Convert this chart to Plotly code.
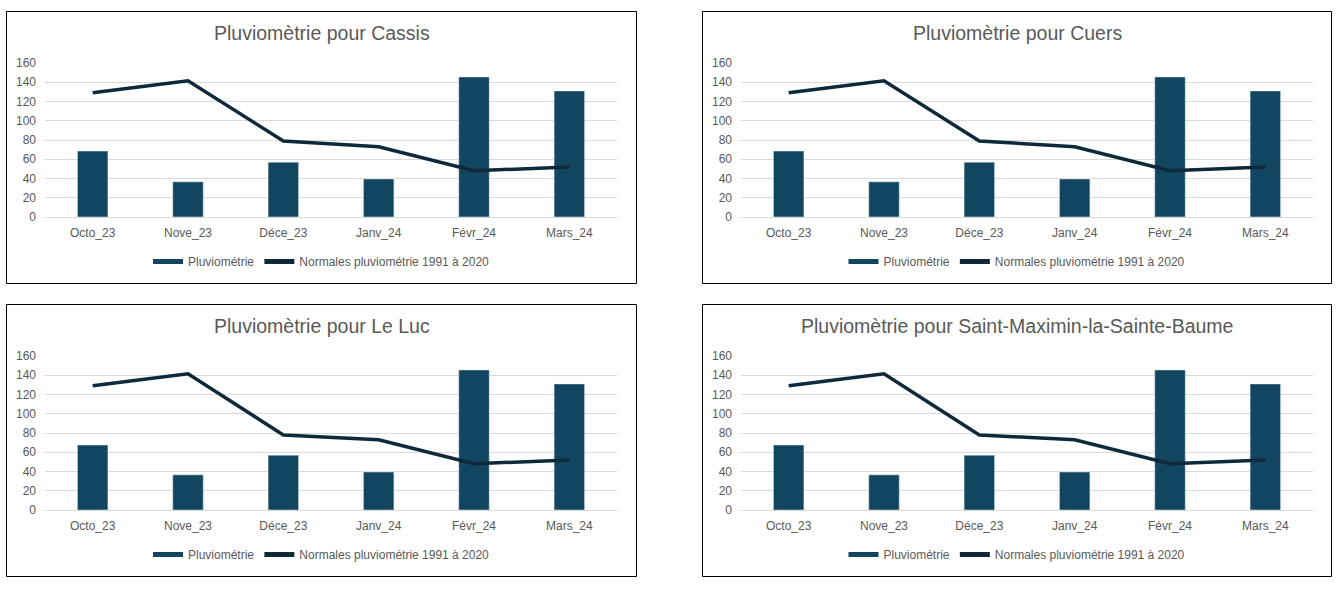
import plotly.graph_objects as go

W, H = 1339, 596

categories = ["Octo_23", "Nove_23", "Déce_23", "Janv_24", "Févr_24", "Mars_24"]
stations = ["Cassis", "Cuers", "Le Luc", "Saint-Maximin-la-Sainte-Baume"]

cassis_pluvio = [68.5, 36.5, 57, 39.5, 145.5, 131]
cassis_normales = [129, 141.5, 79, 73, 48, 52]
cuers_pluvio = [68.5, 36.5, 57, 39.5, 145.5, 131]
cuers_normales = [129, 141.5, 79, 73, 48, 52]
leluc_pluvio = [67.5, 36.5, 57, 39.5, 145.5, 131]
leluc_normales = [129, 141.5, 78, 73, 48, 52]
stmax_pluvio = [67.5, 36.5, 57, 39.5, 145.5, 131]
stmax_normales = [129, 141.5, 78, 73, 48, 52]

pluvio = [cassis_pluvio, cuers_pluvio, leluc_pluvio, stmax_pluvio]
normales = [cassis_normales, cuers_normales, leluc_normales, stmax_normales]

y_ticks = [0, 20, 40, 60, 80, 100, 120, 140, 160]

BAR_COLOR = "#124560"
LINE_COLOR = "#0e2a3a"
GRID = "#d9d9d9"
TXT = "#595959"
FONT = "Liberation Sans, Arial, sans-serif"

# panel geometry in pixels: (box_x0, box_x1, box_y0, box_y1, plot_x0, plot_x1, y0px(0), y160px)
panels = [
    (6.5, 636.5, 11.5, 283.5, 45, 617, 217, 63),
    (702.5, 1331.5, 11.5, 283.5, 741, 1313, 217, 63),
    (6.5, 636.5, 304.5, 576.5, 45, 617, 510, 356),
    (702.5, 1331.5, 304.5, 576.5, 741, 1313, 510, 356),
]

def px(x):
    return x / W

def py(y):
    return 1 - y / H

fig = go.Figure()
shapes = []
annotations = []
layout = {}

for i, (st, pv, nm, geo) in enumerate(zip(stations, pluvio, normales, panels)):
    bx0, bx1, by0, by1, x0, x1, yb, yt = geo
    n = "" if i == 0 else str(i + 1)
    xa, ya = "x" + n, "y" + n
    leg = "legend" + n
    fig.add_trace(go.Bar(
        x=categories, y=pv, name="Pluviométrie", marker_color=BAR_COLOR,
        width=0.32, xaxis=xa, yaxis=ya, showlegend=False,
    ))
    # legend proxy giving a wide rectangular swatch like the original
    fig.add_trace(go.Scatter(
        x=[None], y=[None], name="Pluviométrie", mode="lines",
        line=dict(color=BAR_COLOR, width=8), xaxis=xa, yaxis=ya, legend=leg,
        hoverinfo="skip",
    ))
    fig.add_trace(go.Scatter(
        x=categories, y=nm, name="Normales pluviométrie 1991 à 2020", mode="lines",
        line=dict(color=LINE_COLOR, width=3.5), xaxis=xa, yaxis=ya, legend=leg,
    ))
    layout["xaxis" + n] = dict(
        domain=[px(x0), px(x1)], anchor=ya, showgrid=False, showline=False,
        ticks="", tickfont=dict(size=12, color=TXT, family=FONT),
        ticklabelstandoff=7, fixedrange=True, automargin=False,
        categoryorder="array", categoryarray=categories,
    )
    layout["yaxis" + n] = dict(
        domain=[py(yb), py(yt)], anchor=xa, range=[0, 160], tickvals=y_ticks,
        showgrid=True, gridcolor=GRID, gridwidth=1, zeroline=True, zerolinecolor=GRID,
        zerolinewidth=1, showline=False, ticks="", automargin=False,
        tickfont=dict(size=12, color=TXT, family=FONT), ticklabelstandoff=8,
        fixedrange=True,
    )
    cx = (bx0 + bx1) / 2
    layout[leg] = dict(
        orientation="h", x=px(cx), xanchor="center", y=py(by0 + 250), yanchor="middle",
        font=dict(size=12, color=TXT, family=FONT), bgcolor="rgba(0,0,0,0)",
        itemsizing="constant",
    )
    annotations.append(dict(
        text="Pluviomètrie pour " + st, x=px(cx), y=py(by0 + 22), xref="paper", yref="paper",
        xanchor="center", yanchor="middle", showarrow=False,
        font=dict(size=19.5, color=TXT, family=FONT),
    ))
    shapes.append(dict(
        type="rect", xref="paper", yref="paper", x0=px(bx0), x1=px(bx1), y0=py(by0), y1=py(by1),
        line=dict(color="#000000", width=1), fillcolor="rgba(0,0,0,0)", layer="below",
    ))

fig.update_layout(
    width=W, height=H, autosize=False,
    margin=dict(l=0, r=0, t=0, b=0, pad=0, autoexpand=False),
    paper_bgcolor="white", plot_bgcolor="white",
    shapes=shapes, annotations=annotations, barmode="overlay",
    font=dict(family=FONT, color=TXT),
    **layout,
)

post = """
var d = document.documentElement, b = document.body;
[d, b].forEach(function(e){ e.style.margin='0'; e.style.padding='0'; e.style.overflow='hidden'; });
"""

fig.write_html(
    "out.html",
    config={"displayModeBar": False},
    post_script=post,
)
